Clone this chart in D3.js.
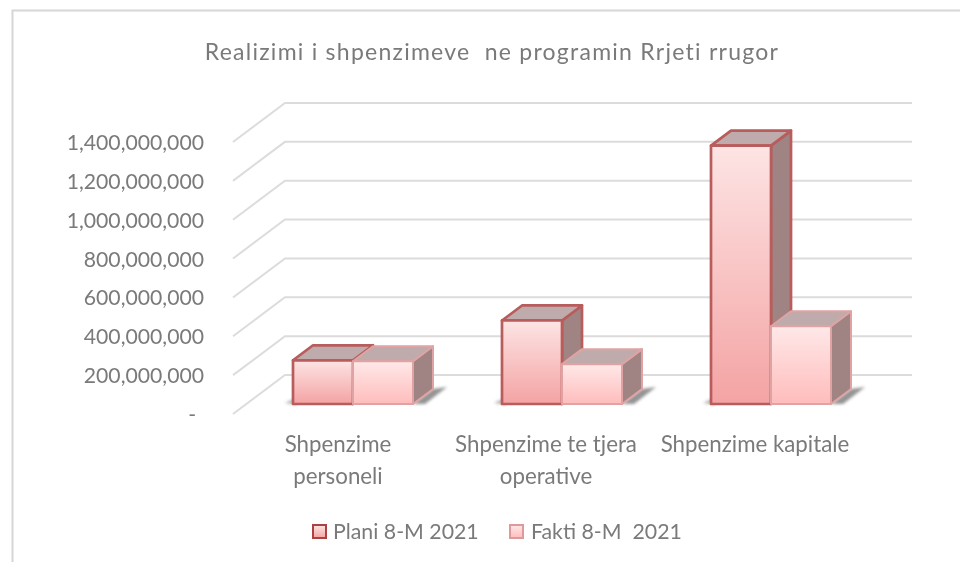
<!DOCTYPE html>
<html><head><meta charset="utf-8">
<script src="https://cdn.jsdelivr.net/npm/d3@7/dist/d3.min.js"></script>
<style>html,body{margin:0;padding:0;background:#fff}svg{display:block}text{font-family:Lato,"Open Sans",sans-serif;fill:#7a7a7a}</style>
</head><body><div id="c"></div>
<script>
const chartTitle = "Realizimi i shpenzimeve  ne programin Rrjeti rrugor";
const categories = [["Shpenzime","personeli"],["Shpenzime te tjera","operative"],["Shpenzime kapitale"]];
const categoryKeys = ["a","b","c"];
const seriesNames = ["Plani 8-M 2021","Fakti 8-M  2021"];
const plani = [225000000,430000000,1330000000];
const fakti = [220000000,205000000,400000000];
const tickValues = [0,200000000,400000000,600000000,800000000,1000000000,1200000000,1400000000];

const W=960,H=562;
const svg=d3.select("#c").append("svg").attr("width",W).attr("height",H);
const defs=svg.append("defs");
const grads=[["g0","#fde4e4","#f4a3a3"],["g1","#ffe8e8","#ffbcbc"]];
grads.forEach(g=>{const l=defs.append("linearGradient").attr("id",g[0]).attr("x1",0).attr("y1",0).attr("x2",0).attr("y2",1);
 l.append("stop").attr("offset",0).attr("stop-color",g[1]);l.append("stop").attr("offset",1).attr("stop-color",g[2]);});
defs.append("filter").attr("id","blur").attr("x","-50%").attr("y","-100%").attr("width","200%").attr("height","300%")
  .append("feGaussianBlur").attr("stdDeviation",1.6);
defs.append("filter").attr("id","soft").attr("filterUnits","userSpaceOnUse").attr("x",0).attr("y",0).attr("width",W).attr("height",H)
  .append("feGaussianBlur").attr("stdDeviation",0.5);
defs.append("filter").attr("id","softText").attr("filterUnits","userSpaceOnUse").attr("x",0).attr("y",0).attr("width",W).attr("height",H)
  .append("feGaussianBlur").attr("stdDeviation",0.35);

// frame
const soft=svg.append("g").attr("filter","url(#soft)");
soft.append("path").attr("d","M12.5,562V10.5H960").attr("fill","none").attr("stroke","#d6d6d6").attr("stroke-width",2);

// scales
const y=d3.scaleLinear().domain([0,1400000000]).range([414,142]);
const wallDx=52, wallDy=-39;
const bw=60, barOffsetY=-10, dx=20, dy=-15;
const catCentre=d3.scaleOrdinal().domain(categoryKeys).range([353,562,771]);
const labelCentre=d3.scaleOrdinal().domain(categoryKeys).range([338,546,755]);

// grid
const grid=svg.append("g").attr("filter","url(#soft)");
tickValues.forEach(t=>{
  const p=d3.path();p.moveTo(233,y(t));p.lineTo(233+wallDx,y(t)+wallDy);p.lineTo(912,y(t)+wallDy);
  grid.append("path").attr("d",p.toString()).attr("fill","none").attr("stroke","#dcdcdc").attr("stroke-width",2);
});

const textG=svg.append("g").attr("filter","url(#softText)");

// tick labels
const fmt=d3.format(",");
tickValues.forEach(t=>{
  textG.append("text").attr("x",t===0?196:204).attr("y",y(t)+8).attr("text-anchor","end")
    .style("font-size","21.2px").text(t===0?"-":fmt(t));
});

// bars
const barsG=svg.append("g").attr("filter","url(#softText)");
const styles=[{fill:"url(#g0)",stroke:"#b85c5c",sw:2.7},{fill:"url(#g1)",stroke:"#dfa3a3",sw:2}];
const all=[plani,fakti];
function poly(g,pts,fill,stroke,sw){g.append("path").attr("d",d3.line()(pts)+"Z").attr("fill",fill)
  .attr("stroke",stroke).attr("stroke-width",sw).attr("stroke-linejoin","round");}
categoryKeys.forEach((k,i)=>{
  const c=catCentre(k), base=y(0)+barOffsetY;
  // floor shadows
  barsG.append("path").attr("d",d3.line()([[c+bw,base],[c+bw+dx,base+dy],[c+bw+dx+14,base+dy-2],[c+bw+12,base]])+"Z")
    .attr("fill","#666").attr("opacity",.7).attr("filter","url(#blur)");
  barsG.append("path").attr("d",d3.line()([[c-bw-8,base-1],[c-bw+4,base-7],[c-bw+4,base+1]])+"Z")
    .attr("fill","#888").attr("opacity",.6).attr("filter","url(#blur)");
  // plani first, fakti in front of its side face
  [0,1].forEach(s=>{
    const x0=s===0?c-bw:c, x1=x0+bw, top=y(all[s][i])+barOffsetY, st=styles[s];
    const g=barsG.append("g");
    poly(g,[[x1,top],[x1+dx,top+dy],[x1+dx,base+dy],[x1,base]],"#a08484",st.stroke,st.sw);
    poly(g,[[x0,top],[x0+dx,top+dy],[x1+dx,top+dy],[x1,top]],"#bfabab",st.stroke,st.sw);
    poly(g,[[x0,top],[x1,top],[x1,base],[x0,base]],st.fill,st.stroke,st.sw);
  });
});

// category labels
categoryKeys.forEach((k,i)=>{
  categories[i].forEach((ln,j)=>{
    textG.append("text").attr("x",labelCentre(k)).attr("y",452+j*32).attr("text-anchor","middle")
      .style("font-size","22.3px").text(ln);
  });
});

// title
textG.append("text").attr("x",492).attr("y",60).attr("text-anchor","middle")
  .style("font-size","23px").style("letter-spacing","1.25px").style("white-space","pre").text(chartTitle);

// legend
const lg=svg.append("g").attr("filter","url(#softText)");
[[313,"#ad3f3f",333],[510,"#dc9a9a",531]].forEach((d,i)=>{
  lg.append("rect").attr("x",d[0]).attr("y",525).attr("width",13).attr("height",13)
    .attr("fill","url(#g"+i+")").attr("stroke",d[1]).attr("stroke-width",2);
  lg.append("text").attr("x",d[2]).attr("y",539).style("font-size","21.3px").style("white-space","pre").text(seriesNames[i]);
});
</script></body></html>
